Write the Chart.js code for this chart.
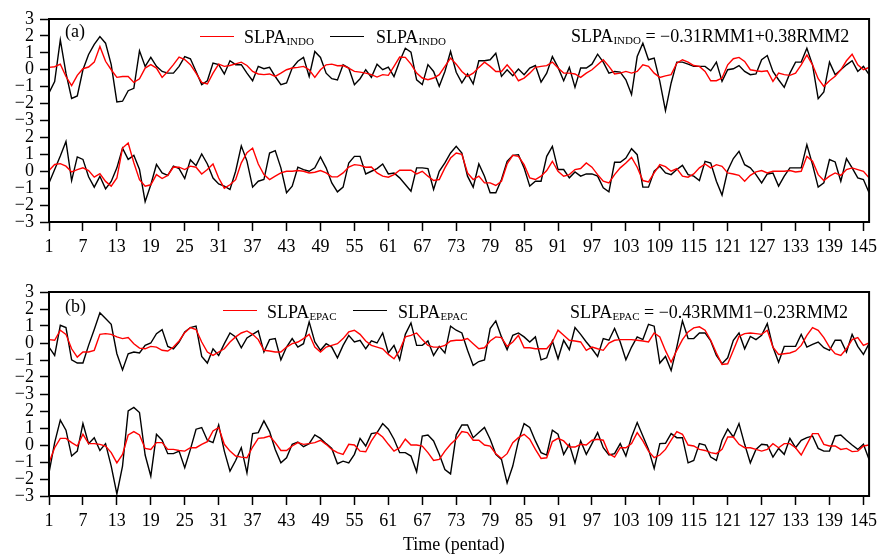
<!DOCTYPE html>
<html>
<head>
<meta charset="utf-8">
<script src="https://cdn.jsdelivr.net/npm/chart.js@4.4.1/dist/chart.umd.min.js"></script>
<style>
  body { margin: 0; background: #fff; }
  #wrap { position: relative; width: 882px; height: 555px; font-family: "Liberation Serif", "Times New Roman", serif; color: #000; }
  canvas { position: absolute; left: 0; }
  .txt { position: absolute; font-size: 18px; line-height: 18px; white-space: nowrap; }
  .sub { position: relative; top: 2px; font-size: 11px; }
  .ln { position: absolute; height: 0; width: 34px; }
</style>
</head>
<body>
<div id="wrap">
  <canvas id="chartA" width="882" height="270" style="top:0"></canvas>
  <canvas id="chartB" width="882" height="285" style="top:270px"></canvas>

  <!-- panel (a) legend -->
  <div class="txt" style="left:65px;top:22px">(a)</div>
  <div class="ln" style="left:200px;top:36px;border-top:1.5px solid #ff0000"></div>
  <div class="txt" style="left:244px;top:28px">SLPA<span class="sub">INDO</span></div>
  <div class="ln" style="left:330px;top:36px;border-top:1.5px solid #000"></div>
  <div class="txt" style="left:376px;top:28px">SLPA<span class="sub">INDO</span></div>
  <div class="txt" style="left:571px;top:27px">SLPA<span class="sub">INDO</span> = −0.31RMM1+0.38RMM2</div>

  <!-- panel (b) legend -->
  <div class="txt" style="left:65px;top:297px">(b)</div>
  <div class="ln" style="left:223px;top:310px;border-top:1.5px solid #ff0000"></div>
  <div class="txt" style="left:267px;top:303px">SLPA<span class="sub">EPAC</span></div>
  <div class="ln" style="left:353px;top:310px;border-top:1.5px solid #000"></div>
  <div class="txt" style="left:398px;top:303px">SLPA<span class="sub">EPAC</span></div>
  <div class="txt" style="left:570px;top:303px">SLPA<span class="sub">EPAC</span> = −0.43RMM1−0.23RMM2</div>

  <div class="txt" style="left:403px;top:535px">Time (pentad)</div>
</div>
<script>
const FONT = "Liberation Serif";
const UPPER_SHIFT = 6; // upper pair of curves is drawn 6 units above the lower pair

const pentads = Array.from({ length: 146 }, (_, i) => i + 1);
const xTickValues = [1, 7, 13, 19, 25, 31, 37, 43, 49, 55, 61, 67, 73, 79, 85, 91, 97, 103, 109, 115, 121, 127, 133, 139, 145];

// panel (a), upper pair
const aUpperBlack = [-1.37, -0.7, 1.77, -0.2, -1.7, -1.55, 0, 0.9, 1.5, 1.96,
  1.57, 0.3, -1.9, -1.86, -1.24, -1.1, 1.12, 0.2, 0.73, 0.2,
  -0.1, -0.2, -0.2, 0.2, 0.78, 0.65, -0.1, -0.88, -0.65, 0.39,
  0.3, -0.25, 0.53, 0.3, 0.3, -0.2, -0.65, 0.2, 0.06, 0.14,
  -0.4, -0.88, -0.78, 0.1, 0.5, 0.73, -0.4, 1.08, 0.73, -0.2,
  -0.53, -0.6, 0.3, 0.1, -0.88, -0.53, 0, -0.45, 0.33, 0,
  0.16, -0.4, 0.5, 1.27, 1.04, -0.6, -0.88, 0.3, -0.1, -0.98,
  -0.1, 1.08, -0.15, -0.78, -0.25, -0.84, 0.53, 0.53, 0.59, 0.98,
  -0.39, 0, -0.35, 0.04, -0.29, 0.1, 0.25, -0.73, -0.2, 0.78,
  0.14, -0.65, 0.14, -1.04, 0.1, 0.1, 0.33, 0.92, 0.45, -0.2,
  -0.1, -0.14, -0.59, -1.47, 0.78, 1.57, 0.59, 0.69, -0.69, -2.42,
  -0.78, 0.45, 0.45, 0.33, 0.2, 0.2, 0.2, -0.06, 0.45, -0.69,
  0, 0.06, 0.25, -0.1, -0.29, -0.25, 0.59, 0.84, -0.1, -0.59,
  -1.04, -0.2, 0.45, 0.45, 1.27, 0.29, -1.71, -1.31, 0.45, -0.29,
  0, 0.29, 0.53, -0.1, 0.2, -0.29];
const aUpperRed = [0.14, 0.18, 0.33, -0.4, -0.94, -0.33, 0.06, 0.16, 0.45, 1.37,
  0.5, 0, -0.45, -0.4, -0.4, -0.75, -0.53, 0.1, 0.3, 0.1,
  -0.45, -0.1, 0.3, 0.75, 0.6, 0.3, -0.2, -0.75, -0.84, -0.2,
  0.33, 0.2, 0.25, 0.35, 0.45, 0.25, -0.1, -0.25, -0.29, -0.25,
  -0.39, -0.2, 0, 0.1, 0.14, 0.2, 0, -0.45, 0, 0.29,
  0.33, 0.24, 0.25, 0.1, -0.1, -0.14, -0.2, -0.29, -0.43, -0.29,
  -0.33, 0.2, 0.75, 0.73, 0.33, -0.2, -0.49, -0.59, -0.49, -0.29,
  0.2, 0.69, 0.33, -0.1, -0.39, -0.2, 0.14, 0.45, 0.2, -0.1,
  -0.1, 0.29, -0.1, -0.65, -0.49, -0.2, 0.14, 0.2, 0.24, 0.45,
  0.1, -0.2, -0.2, -0.25, -0.45, -0.2, 0, 0.29, 0.59, 0.2,
  -0.25, -0.2, -0.1, -0.2, -0.1, 0.29, 0.2, -0.2, -0.45, -0.36,
  -0.29, 0.39, 0.59, 0.45, 0.25, 0.2, -0.1, -0.65, -0.65, -0.49,
  0.29, 0.65, 0.73, 0.49, 0, -0.06, -0.1, -0.06, -0.69, -0.2,
  -0.29, -0.33, -0.2, 0.29, 0.88, 0.29, -0.53, -0.98, -0.65, -0.39,
  0, 0.53, 0.92, 0.29, 0, 0.14];
// panel (a), lower pair
const aLowerBlack = [-0.7, 0.1, 0.9, 1.76, -0.55, 0.85, 0.7, -0.33, -0.94, -0.3,
  -1.04, -0.6, 0.2, 1.37, 0.7, 0.94, 0.1, -1.8, -0.8, 0.4,
  -0.1, -0.24, 0.3, 0.16, -0.43, 0.67, 0.33, 1.02, 0.43, -0.4,
  -0.75, -0.88, -1.08, 0, 1.5, 0.6, -0.94, -0.59, -0.49, 1.08,
  1.22, 0.2, -1.27, -0.88, 0.24, 0.1, 0, 0.2, 0.84, 0.2,
  -0.69, -1.22, -0.94, 0.49, 0.88, 0.88, -0.16, 0, 0.16, 0.43,
  -0.16, -0.1, -0.39, -0.78, -1.18, 0.2, 0.2, 0.16, -1.08, 0,
  0.49, 1.08, 1.47, 1.08, -0.29, -0.94, 0.43, -0.29, -1.27, -1.27,
  -0.49, 0.59, 0.94, 0.98, 0.2, -0.88, -0.59, -0.59, 0.88, 1.47,
  0.1, 0.1, -0.39, -0.04, -0.29, -0.16, -0.16, -0.29, -0.98, -1.22,
  0.53, 0.53, 0.78, 1.33, 0.98, -0.94, -0.94, 0, 0.29, -0.1,
  -0.2, 0.1, 0.35, -0.2, -0.29, -0.55, 0.59, 0.49, -0.59, -1.41,
  0.04, 0.75, 1.18, 0.39, 0.2, -0.2, -0.69, -0.16, -0.1, -0.88,
  -0.29, 0.2, 0.2, 0.2, 1.57, 0.39, -0.94, -0.69, 0.69, 0.55,
  -0.59, 0.75, 0.2, -0.39, -0.49, -1.27];
const aLowerRed = [0.04, 0.4, 0.45, 0.3, -0.04, 0.1, 0.2, 0.04, -0.35, -0.14,
  -0.6, -0.88, -0.4, 1.37, 1.67, 0.5, -0.5, -0.88, -0.8, -0.2,
  -0.43, -0.25, 0.25, 0.24, 0.1, 0.3, 0.24, -0.16, 0.1, 0.43,
  -0.4, -1.0, -0.8, -0.5, 0.5, 1.1, 1.37, 0.43, -0.2, -0.49,
  -0.29, -0.1, 0, 0, 0.04, 0, -0.1, -0.06, 0.04, -0.1,
  -0.33, -0.33, -0.1, 0.25, 0.39, 0.35, 0.24, 0.25, -0.1, -0.29,
  -0.35, -0.2, 0.06, 0.06, 0.06, -0.16, 0, -0.29, -0.55, -0.49,
  0.2, 0.78, 1.08, 1.0, -0.1, -0.49, -0.29, -0.69, -0.69, -0.84,
  -0.59, 0.43, 0.94, 0.88, 0.39, -0.39, -0.49, -0.29, 0.04, 0.59,
  0, -0.29, -0.2, 0.1, 0.16, 0.49, 0.24, -0.2, -0.59, -0.69,
  -0.2, 0.2, 0.49, 0.82, 0.24, -0.55, -0.63, -0.1, 0.39, 0.27,
  0, 0.16, -0.29, -0.35, -0.16, 0.2, 0.43, 0.2, 0.39, 0.29,
  -0.1, -0.16, -0.24, -0.59, -0.24, -0.04, 0.04, -0.1, 0, 0,
  0, 0.04, -0.04, 0, 0.88, 0.59, -0.2, -0.55, -0.29, -0.1,
  -0.24, 0.1, 0.2, 0.1, 0, -0.39];

// panel (b), upper pair
const bUpperBlack = [-0.24, -0.73, 1.04, 0.91, -0.99, -1.18, -1.18, -0.14, 0.79, 1.78,
  1.44, 1.1, -0.63, -1.58, -0.63, -0.53, -0.59, -0.14, 0, 0.55,
  0.79, -0.2, -0.34, 0.06, 0.65, 0.91, 0.99, -0.79, -1.18, -0.34,
  -0.73, -0.04, 0.59, 0.36, -0.28, 0.3, 0.51, 0.71, -0.53, 0.2,
  0.26, -0.99, -0.24, 0.26, -0.24, -0.04, 1.24, 0.06, -0.43, -0.04,
  -0.24, -0.87, -0.14, 0.45, 0.06, 0.16, -0.34, 0.12, 0, 0.59,
  -0.59, -0.14, -0.99, 0.51, 1.18, -0.14, -0.14, 0.12, -0.73, -0.2,
  -0.59, 0.99, 0.75, 0.59, -0.43, -1.32, -1.09, -0.99, 0.85, 1.3,
  0.36, -0.39, 0.45, 0.59, 0.36, 0.06, 0.36, -0.99, -0.87, 0.12,
  -0.93, 0.16, -0.39, 0.91, 0.51, 0.06, -0.34, -0.79, 0.26, 0.16,
  0.85, 0.06, -0.99, -0.24, 0.36, 0.2, 1.1, 0.99, -1.18, -0.79,
  -1.62, -0.24, 1.3, 0.26, 0.26, 0.59, 0.59, 0.12, -0.73, -1.22,
  -0.87, 0.16, 0.59, -0.34, 0.39, 0.2, 0.45, 1.14, -0.24, -1.13,
  -0.2, -0.2, -0.2, 0.51, -0.24, -0.08, 0.06, -0.28, -0.43, 0.16,
  0.16, -0.53, 0.51, -0.2, -0.67, -0.04];
const bUpperRed = [0.2, 0.16, 0.75, 0.51, -0.34, -0.83, -0.53, -0.53, -0.43, 0.51,
  0.55, 0.51, 0.36, 0.26, 0.32, -0.04, -0.3, -0.34, -0.2, -0.24,
  -0.43, -0.47, -0.24, 0.12, 0.61, 0.91, 0.79, 0.06, -0.53, -0.73,
  -0.53, -0.34, 0.06, 0.36, 0.59, 0.71, 0.51, 0.2, -0.43, -0.47,
  -0.53, -0.53, -0.24, -0.04, 0.06, 0.26, 0.51, -0.24, -0.53, -0.24,
  -0.14, -0.04, 0.26, 0.65, 0.75, 0.51, 0.12, -0.14, -0.24, -0.34,
  -0.67, -0.93, -0.43, 0.36, 0.45, 0.59, 0.2, -0.14, -0.24, -0.24,
  -0.14, 0.12, 0.16, 0.16, 0.26, -0.04, -0.34, -0.28, 0.12, 0.36,
  0.32, -0.2, 0.06, 0.45, -0.28, -0.28, -0.34, -0.34, -0.34, 0.06,
  0.75, 0.45, 0.16, 0.12, 0.06, -0.43, -0.24, -0.34, -0.43, 0,
  0.16, 0.2, 0.2, 0.2, 0.16, 0.12, 0.06, 0.59, 0.36, -0.45,
  -1.13, -0.43, 0.2, 0.65, 0.89, 0.95, 0.75, 0.16, -0.59, -1.26,
  -1.22, -0.43, 0.39, 0.55, 0.59, 0.55, 0.51, 0.75, -0.24, -0.67,
  -0.63, -0.59, -0.47, -0.14, 0.45, 0.91, 0.75, 0.32, -0.24, -0.63,
  -0.73, -0.34, 0.2, 0.32, -0.14, 0];
// panel (b), lower pair
const bLowerBlack = [-1.64, 0.14, 1.46, 0.87, -0.65, -0.36, 1.26, 0.08, 0.43, -0.32,
  0.08, -1.24, -2.88, -1.24, 2.01, 2.21, 1.91, -0.59, -1.83, 0.63,
  0.28, -0.51, -0.51, -0.36, -1.34, -0.26, 0.93, 1.03, 0.28, 0.14,
  1.18, -0.36, -1.54, -0.91, -0.16, -1.64, 0.67, 0.73, 1.42, 0.79,
  -0.26, -1.05, -0.75, 0.04, 0.18, -0.1, 0.08, 0.59, 0.39, 0.08,
  -0.2, -1.1, -0.95, -1.05, -0.55, 0.39, -0.06, 0.67, 0.73, 1.26,
  0.93, 0.34, -0.45, -0.45, -0.65, -1.58, 0.53, 0.59, 0.24, -0.55,
  -1.44, -1.7, 0.6, 1.18, 1.18, 0.43, 0.73, 1.03, 0.34, -0.55,
  -0.85, -2.23, -1.24, 0.24, 1.26, 1.03, 0.24, -0.45, -0.59, 0.87,
  0.63, -0.55, 0.04, -1.05, 0.24, -0.55, 0.08, 0.73, -0.16, -0.59,
  -0.51, 0.08, -0.65, 0.47, 1.32, 0.53, -0.26, -1.38, 0.08, 0.1,
  0.67, 0.43, 0.43, -1.05, -0.91, 0.08, 0, -0.71, -0.91, 0.28,
  0.93, 0.47, 1.26, 0.04, -1.05, -0.26, 0.04, 0, -0.71, -0.2,
  -0.55, 0.39, -0.16, 0.28, 0.43, 0.53, -0.2, -0.36, -0.36, 0.53,
  0.59, 0.28, 0, -0.26, 0.04, -0.85];
const bLowerRed = [-1.05, -0.16, 0.39, 0.39, 0.14, -0.06, 0.63, 0.08, 0.08, 0.04,
  -0.06, -0.45, -1.05, -0.55, 0.59, 0.79, 0.59, -0.2, -0.26, 0.14,
  0.14, -0.26, -0.26, -0.32, -0.36, -0.16, -0.16, 0.04, 0.2, 0.83,
  1.03, 0.04, -0.36, -0.65, -0.71, -0.75, -0.12, 0.39, 0.43, 0.53,
  0.14, -0.32, -0.32, -0.06, 0.14, 0.04, 0.08, 0.14, 0.28, 0.04,
  -0.26, -0.45, -0.55, 0.04, 0, -0.36, -0.4, 0.24, 0.73, 0.47,
  0.04, -0.36, -0.16, 0.34, 0, 0, -0.06, -0.45, -0.91, -0.85,
  -0.36, 0.04, 0.35, 0.79, 0.73, 0.28, 0.28, 0, -0.06, -0.51,
  -0.79, -0.51, 0.14, 0.43, 0.63, 0.34, -0.26, -0.79, -0.75, 0.2,
  0.39, 0.24, -0.12, -0.12, 0.04, 0, 0.28, 0.34, 0.28, -0.51,
  -0.71, -0.16, -0.16, 0.08, 0.73, 0.24, -0.36, -0.75, -0.59, -0.26,
  0.28, 0.79, 0.63, 0, -0.06, -0.26, -0.32, -0.45, -0.51, -0.26,
  0.47, 0.47, 0.04, -0.16, -0.16, -0.26, -0.36, -0.26, 0.08, -0.16,
  0.08, 0.08, -0.16, -0.59, 0.04, 0.67, 0.67, 0.04, -0.06, -0.06,
  -0.26, -0.2, -0.39, -0.36, -0.06, 0];

function minusFmt(n) {
  return n < 0 ? "\u2212" + Math.abs(n) : String(n);
}

function series(vals, shift, color) {
  return {
    data: vals.map((v, i) => ({ x: pentads[i], y: v + shift })),
    borderColor: color,
    borderWidth: 1.4,
    pointRadius: 0,
    tension: 0,
    fill: false
  };
}

// box round the plot area
const framePlugin = {
  id: "frame",
  afterDatasetsDraw(chart) {
    const a = chart.chartArea;
    const ctx = chart.ctx;
    ctx.save();
    ctx.strokeStyle = "#000";
    ctx.lineWidth = 2;
    ctx.strokeRect(a.left, a.top, a.right - a.left, a.bottom - a.top);
    ctx.restore();
  }
};

function makePanel(id, topPad, xHeight, upBlack, upRed, loBlack, loRed) {
  return new Chart(document.getElementById(id), {
    type: "line",
    data: {
      datasets: [
        series(upRed, UPPER_SHIFT, "#ff0000"),
        series(loRed, 0, "#ff0000"),
        series(upBlack, UPPER_SHIFT, "#000000"),
        series(loBlack, 0, "#000000")
      ]
    },
    options: {
      responsive: false,
      animation: false,
      layout: { padding: { top: topPad, right: 10, left: 0, bottom: 0 } },
      plugins: { legend: { display: false }, tooltip: { enabled: false } },
      scales: {
        x: {
          type: "linear",
          min: 1,
          max: 146,
          afterBuildTicks: s => { s.ticks = xTickValues.map(v => ({ value: v })); },
          afterFit: s => { s.height = xHeight; },
          border: { display: false },
          grid: { drawOnChartArea: false, tickLength: 9, tickWidth: 1.5, tickColor: "#000" },
          ticks: { color: "#000", font: { family: FONT, size: 18 }, padding: 5, maxRotation: 0, autoSkip: false,
                   callback: v => String(v) }
        },
        y: {
          min: -3,
          max: 9,
          afterFit: s => { s.width = 49; },
          border: { display: false },
          grid: { drawOnChartArea: false, tickLength: 9, tickWidth: 1.5, tickColor: "#000" },
          ticks: { stepSize: 1, autoSkip: false, color: "#000", font: { family: FONT, size: 18, lineHeight: 1 }, padding: 6,
                   callback: v => minusFmt(v <= 2 ? v : v - UPPER_SHIFT) }
        }
      }
    },
    plugins: [framePlugin]
  });
}

makePanel("chartA", 19, 48, aUpperBlack, aUpperRed, aLowerBlack, aLowerRed);
makePanel("chartB", 22, 59, bUpperBlack, bUpperRed, bLowerBlack, bLowerRed);
</script>
</body>
</html>
